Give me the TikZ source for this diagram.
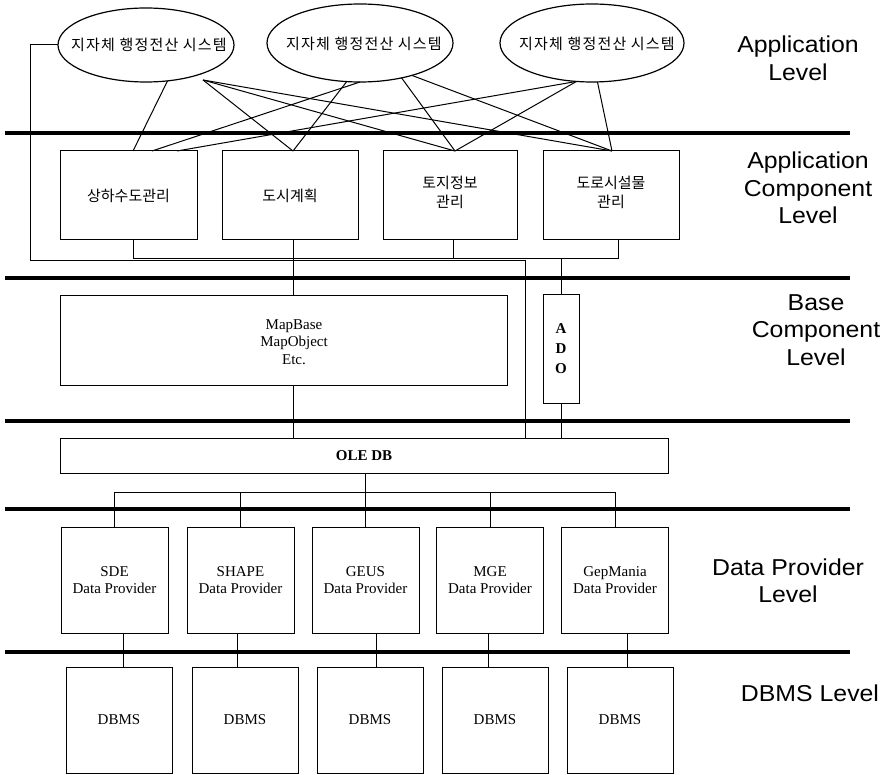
\documentclass[tikz,border=0pt]{standalone}
\usepackage{fontspec}
\setmainfont{Liberation Serif}
\newfontfamily\kr{Noto Sans CJK KR}
\newfontfamily\krs[LetterSpace=8]{Noto Sans CJK KR}
\newfontfamily\lv[FakeStretch=1.08]{Liberation Sans}
\usetikzlibrary{shapes.geometric,calc}
\begin{document}
\begin{tikzpicture}[x=1pt,y=-1pt,line width=1pt,
  every node/.style={inner sep=0pt,outer sep=0pt},
  sys/.style={ellipse,draw,line width=1.2pt,minimum width=176pt,minimum height=74pt},
  systext/.style={font=\krs\fontsize{15}{18}\selectfont},
  comp/.style={draw,anchor=north west,minimum width=136pt,minimum height=89pt},
  comptext/.style={align=center,font=\kr\fontsize{15}{19}\selectfont},
  box/.style={draw,align=center,font=\fontsize{15}{17.5}\selectfont},
  boxtext/.style={align=center,font=\fontsize{15}{17.5}\selectfont},
  lvl/.style={align=center,font=\lv\fontsize{23}{27.5}\selectfont},
  layer/.style={line width=3.5pt}]
\useasboundingbox (0,0) rectangle (883,775);

% layer separators
\foreach \y in {133,278,421,509,652} \draw[layer] (5,\y) -- (850,\y);

% application level
\node[sys] (e1) at (146,45) {};
\node[sys,minimum width=186pt,minimum height=78pt] (e2) at (360,43) {};
\node[sys,minimum width=184pt,minimum height=78pt] (e3) at (592,43) {};
\node[systext] (t1) at (149,45) {지자체 행정전산 시스템};
\node[systext] (t2) at (364,44) {지자체 행정전산 시스템};
\node[systext] (t3) at (597,44) {지자체 행정전산 시스템};

% application components
\node[comp,minimum width=137pt] (b1) at (60,151) {};
\node[comp] (b2) at (222,151) {};
\node[comp,minimum width=134pt] (b3) at (383,151) {};
\node[comp] (b4) at (543,151) {};
\node[comptext] at (b1) {상하수도관리};
\node[comptext] at (b2) {도시계획};
\node[comptext] at ([yshift=3pt]b3.center) {토지정보\\관리};
\node[comptext] at ([yshift=3pt]b4.center) {도로시설물\\관리};

% ellipse -> component links
\coordinate (e1f) at (203,80);
\draw (e1.-59) -- ($(b1.north west)+(73,0)$);
\draw (e1f) -- ($(b2.north west)+(71,0)$);
\draw (e1f) -- ($(b3.north west)+(72,0)$);
\draw (e1f) -- ($(b4.north west)+(69,0)$);
\draw (e2.south) -- ($(b1.north west)+(92,0)$);
\draw (e2.-109) -- ($(b2.north west)+(71,0)$);
\draw (e2.-40) -- ($(b3.north west)+(72,0)$);
\draw (e2.-32) -- ($(b4.north west)+(69,0)$);
\draw (e3.-112) -- ($(b1.north west)+(117,0)$);
\draw (e3.-112) -- ($(b3.north west)+(72,0)$);
\draw (e3.-82) -- ($(b4.north west)+(69,0)$);

% base components
\node[box,minimum width=447pt,minimum height=90pt] (mb) at (283.5,340.5) {};
\node[boxtext] (mbt) at (294,342) {MapBase\\MapObject\\Etc.};
\node[box,minimum width=36pt,minimum height=108pt,font=\bfseries\fontsize{15}{20}\selectfont] (ado) at (561,349) {A\\D\\O};
\node[box,minimum width=608pt,minimum height=35pt,font=\bfseries\fontsize{15}{17}\selectfont] (ole) at (364,455.5) {OLE DB};

% component bus
\coordinate (c0) at (30,261);
\coordinate (c5) at (525,261);
\coordinate (c1) at (133,259);
\coordinate (c2) at (293,259);
\coordinate (c3) at (453,259);
\coordinate (c4) at (618,259);
\draw (c1 |- b1.south) -- (c1) -- (c4) -- (c4 |- b4.south);
\draw (c3 |- b3.south) -- (c3);
\draw (c2 |- b2.south) -- (c2 |- mb.north);
\draw (c2 |- mb.south) -- (c2 |- ole.north);
\draw (e1.west) -| (c0) -- (c5) -- (c5 |- ole.north);
\draw (ado.north) -- (ado.north |- c1);
\draw (ado.south) -- (ado.south |- ole.north);

% data providers
\foreach \i/\x/\n in {1/114.5/SDE,2/240.5/SHAPE,3/365.5/GEUS,4/490/MGE,5/615/GepMania}{
  \node[box,minimum width=107pt,minimum height=106pt] (dp\i) at (\x,580) {\n\\Data Provider};
}
\coordinate (dbus) at (0,492);
\draw (dp1.north) -- (dp1.north |- dbus) -- (dp5.north |- dbus) -- (dp5.north);
\foreach \i in {2,3,4} \draw (dp\i.north) -- (dp\i.north |- dbus);
\draw (ole.south -| dp3.north) -- (dp3.north |- dbus);

% DBMS
\foreach \i/\x in {1/119,2/245,3/370,4/495,5/620}{
  \node[box,minimum width=106pt,minimum height=106pt] (db\i) at (\x,720) {DBMS};
}
\foreach \i/\x in {1/123,2/237,3/376,4/488,5/627}{
  \coordinate (k\i) at (\x,0);
  \draw (k\i |- dp\i.south) -- (k\i |- db\i.north);
}

% level labels
\node[lvl] (l1) at (798,58.5) {Application\\Level};
\node[lvl] (l2) at (808,188) {Application\\Component\\Level};
\node[lvl] (l3) at (816,330) {Base\\Component\\Level};
\node[lvl] (l4) at (788,581) {Data Provider\\Level};
\node[lvl] (l5) at (810,693) {DBMS Level};
\end{tikzpicture}
\end{document}
